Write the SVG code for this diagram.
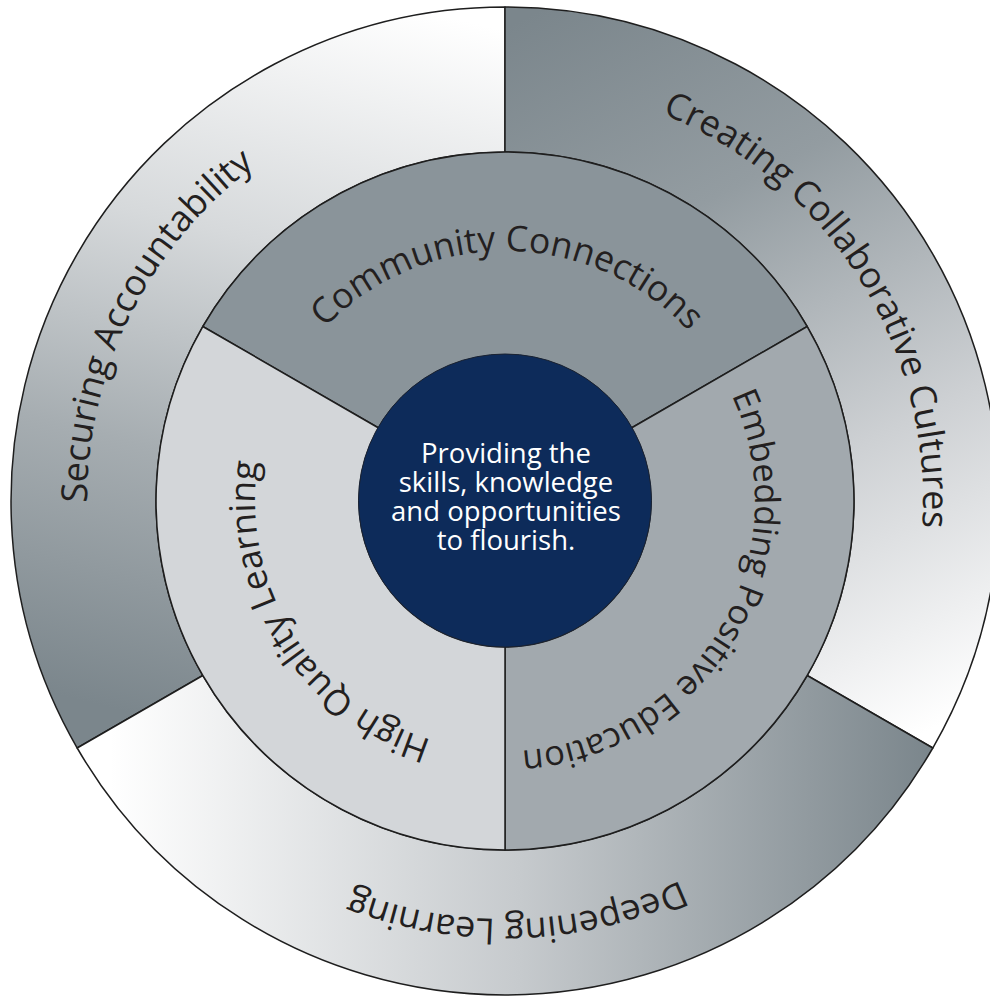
<svg xmlns="http://www.w3.org/2000/svg" width="990" height="998" viewBox="0 0 990 998">
<style>
.seg{stroke:#1e1e1e;stroke-width:1.5;stroke-linejoin:round}
.lbl{font-family:"Open Sans","DejaVu Sans",sans-serif;fill:#231f20}
.ctr{font-family:"Open Sans","DejaVu Sans",sans-serif;fill:#ffffff;font-size:27.5px;text-anchor:middle}
</style>
<defs>
<linearGradient id="gSec" gradientUnits="userSpaceOnUse" x1="380" y1="0" x2="200" y2="730">
<stop offset="0" stop-color="#ffffff"/>
<stop offset="0.35" stop-color="#d6d9db"/>
<stop offset="0.65" stop-color="#a6adb1"/>
<stop offset="1" stop-color="#7b868c"/>
</linearGradient>
<linearGradient id="gCre" gradientUnits="userSpaceOnUse" x1="560" y1="0" x2="930" y2="730">
<stop offset="0" stop-color="#7b868c"/>
<stop offset="0.3" stop-color="#939ca1"/>
<stop offset="0.65" stop-color="#cdd0d3"/>
<stop offset="1" stop-color="#ffffff"/>
</linearGradient>
<linearGradient id="gDee" gradientUnits="userSpaceOnUse" x1="110" y1="0" x2="930" y2="0">
<stop offset="0" stop-color="#ffffff"/>
<stop offset="0.5" stop-color="#c6cacd"/>
<stop offset="1" stop-color="#7b868c"/>
</linearGradient>
<path id="pSec" d="M 841.0 749.6 A 418 418 0 1 1 905.8 619.7"/>
<path id="pCre" d="M 118.0 658.9 A 418 418 0 1 1 195.3 781.8"/>
<path id="pDee" d="M 565.4 87.4 A 418 418 0 1 1 420.2 91.7"/>
<path id="pCom" d="M 459.4 746.8 A 250 250 0 1 1 546.3 747.6"/>
<path id="pEmb" d="M 315.2 338.3 A 250 250 0 1 1 271.0 413.0"/>
<path id="pHig" d="M 736.8 407.3 A 250 250 0 1 1 690.8 333.7"/>
</defs>

<g id="securing-accountability">
<path class="seg" fill="url(#gSec)" d="M 77.2 748 A 494 494 0 0 1 505 7 L 505 152 A 349 349 0 0 0 202.8 675.5 Z"/>
<text class="lbl" font-size="36"><textPath href="#pSec" startOffset="50%" text-anchor="middle">Securing Accountability</textPath></text>
</g>
<g id="creating-collaborative-cultures">
<path class="seg" fill="url(#gCre)" d="M 505 7 A 494 494 0 0 1 932.8 748 L 807.2 675.5 A 349 349 0 0 0 505 152 Z"/>
<text class="lbl" font-size="36"><textPath href="#pCre" startOffset="50%" text-anchor="middle">Creating Collaborative Cultures</textPath></text>
</g>
<g id="deepening-learning">
<path class="seg" fill="url(#gDee)" d="M 932.8 748 A 494 494 0 0 1 77.2 748 L 202.8 675.5 A 349 349 0 0 0 807.2 675.5 Z"/>
<text class="lbl" font-size="36"><textPath href="#pDee" startOffset="50%" text-anchor="middle">Deepening Learning</textPath></text>
</g>

<g id="community-connections">
<path class="seg" fill="#8a949a" d="M 202.8 326.5 A 349 349 0 0 1 807.2 326.5 L 631.4 428 A 146 146 0 0 0 378.6 428 Z"/>
<text class="lbl" font-size="35.5"><textPath href="#pCom" startOffset="50%" text-anchor="middle">Community Connections</textPath></text>
</g>
<g id="embedding-positive-education">
<path class="seg" fill="#a2a9ae" d="M 807.2 326.5 A 349 349 0 0 1 505 850 L 505 647 A 146 146 0 0 0 631.4 428 Z"/>
<text class="lbl" font-size="34.5"><textPath href="#pEmb" startOffset="50%" text-anchor="middle">Embedding Positive Education</textPath></text>
</g>
<g id="high-quality-learning">
<path class="seg" fill="#d3d6d9" d="M 505 850 A 349 349 0 0 1 202.8 326.5 L 378.6 428 A 146 146 0 0 0 505 647 Z"/>
<text class="lbl" font-size="35.5"><textPath href="#pHig" startOffset="50%" text-anchor="middle">High Quality Learning</textPath></text>
</g>

<g id="center">
<circle cx="505" cy="500.5" r="146.5" fill="#0d2b5a" stroke="#1a2333" stroke-width="1"/>
<text class="ctr" x="506" y="463">Providing the</text>
<text class="ctr" x="506" y="492">skills, knowledge</text>
<text class="ctr" x="506" y="521">and opportunities</text>
<text class="ctr" x="506" y="550">to flourish.</text>
</g>
</svg>
